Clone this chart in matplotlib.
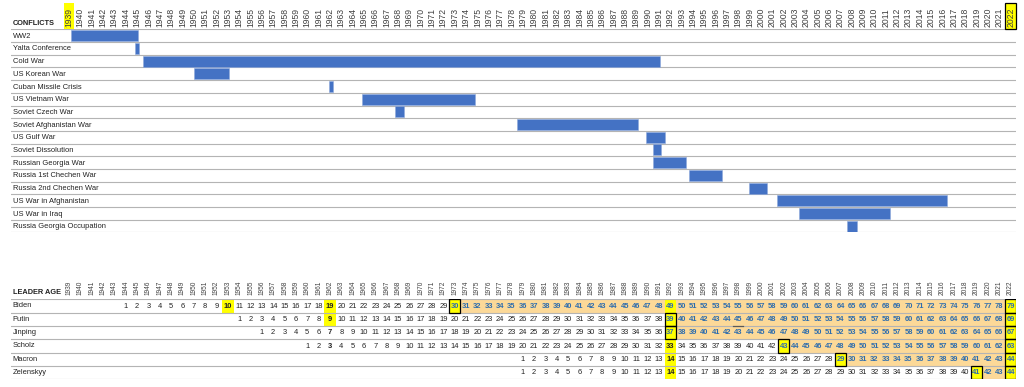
import matplotlib
matplotlib.use("Agg")
import matplotlib.pyplot as plt
from matplotlib.patches import Rectangle

plt.rcParams['font.family'] = ['Liberation Sans', 'DejaVu Sans']

# ---------------- data ----------------
years = list(range(1939, 2023))

conflicts = ["WW2", "Yalta Conference", "Cold War", "US Korean War", "Cuban Missile Crisis",
             "US Vietnam War", "Soviet Czech War", "Soviet Afghanistan War", "US Gulf War",
             "Soviet Dissolution", "Russian Georgia War", "Russia 1st Chechen War",
             "Russia 2nd Chechen War", "US War in Afghanistan", "US War in Iraq",
             "Russia Georgia Occupation"]
conflict_start = [1939.65, 1945.34, 1946.00, 1950.54, 1962.44, 1965.30, 1968.24, 1978.99,
                  1990.36, 1991.00, 1991.00, 1994.18, 1999.44, 2001.88, 2003.87, 2008.05]
conflict_end = [1945.61, 1945.64, 1991.59, 1953.58, 1962.74, 1975.29, 1969.05, 1989.63,
                1992.03, 1991.68, 1993.86, 1997.06, 2001.05, 2016.92, 2011.87, 2008.96]

leaders = ["Biden", "Putin", "Jinping", "Scholz", "Macron", "Zelenskyy"]
first_age_year = [1944, 1954, 1956, 1960, 1979, 1979]
ages_biden = [1, 2, 3, 4, 5, 6, 7, 8, 9, 10, 11, 12, 13, 14, 15, 16, 17, 18, 19, 20,
              21, 22, 23, 24, 25, 26, 27, 28, 29, 30, 31, 32, 33, 34, 35, 36, 37, 38, 39, 40,
              41, 42, 43, 44, 45, 46, 47, 48, 49, 50, 51, 52, 53, 54, 55, 56, 57, 58, 59, 60,
              61, 62, 63, 64, 65, 66, 67, 68, 69, 70, 71, 72, 73, 74, 75, 76, 77, 78, 79]
ages_putin = [1, 2, 3, 4, 5, 6, 7, 8, 9, 10, 11, 12, 13, 14, 15, 16, 17, 18, 19, 20,
              21, 22, 23, 24, 25, 26, 27, 28, 29, 30, 31, 32, 33, 34, 35, 36, 37, 38, 39, 40,
              41, 42, 43, 44, 45, 46, 47, 48, 49, 50, 51, 52, 53, 54, 55, 56, 57, 58, 59, 60,
              61, 62, 63, 64, 65, 66, 67, 68, 69]
ages_jinping = [1, 2, 3, 4, 5, 6, 7, 8, 9, 10, 11, 12, 13, 14, 15, 16, 17, 18, 19, 20,
                21, 22, 23, 24, 25, 26, 27, 28, 29, 30, 31, 32, 33, 34, 35, 36, 37, 38, 39, 40,
                41, 42, 43, 44, 45, 46, 47, 48, 49, 50, 51, 52, 53, 54, 55, 56, 57, 58, 59, 60,
                61, 62, 63, 64, 65, 66, 67]
ages_scholz = [1, 2, 3, 4, 5, 6, 7, 8, 9, 10, 11, 12, 13, 14, 15, 16, 17, 18, 19, 20,
               21, 22, 23, 24, 25, 26, 27, 28, 29, 30, 31, 32, 33, 34, 35, 36, 37, 38, 39, 40,
               41, 42, 43, 44, 45, 46, 47, 48, 49, 50, 51, 52, 53, 54, 55, 56, 57, 58, 59, 60,
               61, 62, 63]
ages_macron = [1, 2, 3, 4, 5, 6, 7, 8, 9, 10, 11, 12, 13, 14, 15, 16, 17, 18, 19, 20,
               21, 22, 23, 24, 25, 26, 27, 28, 29, 30, 31, 32, 33, 34, 35, 36, 37, 38, 39, 40,
               41, 42, 43, 44]
ages_zelenskyy = [1, 2, 3, 4, 5, 6, 7, 8, 9, 10, 11, 12, 13, 14, 15, 16, 17, 18, 19, 20,
                  21, 22, 23, 24, 25, 26, 27, 28, 29, 30, 31, 32, 33, 34, 35, 36, 37, 38, 39, 40,
                  41, 42, 43, 44]
leader_ages = [ages_biden, ages_putin, ages_jinping, ages_scholz, ages_macron, ages_zelenskyy]
tenure_start = [1973, 1992, 1992, 2002, 2007, 2019]
yellow_cells = [("Biden", 1953), ("Biden", 1962), ("Putin", 1962), ("Biden", 1992),
                ("Scholz", 1992), ("Macron", 1992), ("Zelenskyy", 1992)]
bold_cells = [("Jinping", 1962), ("Scholz", 1962)]
header_highlight = [1939, 2022]
current_year = 2022

# ---------------- style ----------------
W, H = 1024, 387
COL = 11.345
X0_PX = 63.33          # left edge of 1939 column in pixels
LEFT_PX, RIGHT_PX = 11, 1016.3
xmin = 1939 - (X0_PX - LEFT_PX) / COL
xmax = 1939 + (RIGHT_PX - X0_PX) / COL
BAR = "#4472C4"
BAR_EDGE = "#8EA9DB"
GRID = "#B4B4B4"
YELLOW = "#FFFF00"
PEACH = "#FCD998"
BLUE = "#2E6DAE"
DARK = "#222222"
YEARC = "#404040"

fig = plt.figure(figsize=(W / 100, H / 100), dpi=100)

# ---------------- conflicts ----------------
top_px, bot_px = 29.3, 232.5
ax1 = fig.add_axes([LEFT_PX / W, 1 - bot_px / H, (RIGHT_PX - LEFT_PX) / W, (bot_px - top_px) / H])
ax1.set_xlim(xmin, xmax)
ax1.set_ylim(len(conflicts), 0)
ax1.set_axis_off()
row1 = (bot_px - top_px) / len(conflicts)

for k in range(len(conflicts) + 1):
    ax1.axhline(k, color=GRID, lw=0.8, zorder=1)

ax1.barh([i + 0.5 for i in range(len(conflicts))],
         [e - s for s, e in zip(conflict_start, conflict_end)],
         left=conflict_start, height=0.86, color=BAR, edgecolor=BAR_EDGE, lw=0.4, zorder=3)

label_x = xmin + 1.7 / COL
for i, name in enumerate(conflicts):
    ax1.text(label_x, i + 0.55, name, fontsize=5.4, color=DARK, va="center", ha="left")

hdr_h = 26.0 / row1
for y in header_highlight:
    ax1.add_patch(Rectangle((y + 0.02, -hdr_h), 0.94, hdr_h, facecolor=YELLOW,
                            edgecolor="black" if y == current_year else "none",
                            lw=0.9, clip_on=False, zorder=1))
for y in years:
    ax1.text(y + 0.5, -2.6 / row1, str(y), rotation=90, fontsize=6.2, color=YEARC,
             ha="center", va="bottom", clip_on=False, zorder=2)
ax1.text(label_x, -6.0 / row1, "CONFLICTS", fontsize=5.3, fontweight="bold", color=DARK,
         ha="left", va="center", clip_on=False)

# ---------------- leader ages ----------------
top2, bot2 = 299.3, 379.3
ax2 = fig.add_axes([LEFT_PX / W, 1 - bot2 / H, (RIGHT_PX - LEFT_PX) / W, (bot2 - top2) / H])
ax2.set_xlim(xmin, xmax)
ax2.set_ylim(len(leaders), 0)
ax2.set_axis_off()
row2 = (bot2 - top2) / len(leaders)

for y in years:
    ax2.text(y + 0.5, -4.3 / row2, str(y), rotation=90, fontsize=4.7, color=YEARC,
             ha="center", va="bottom", clip_on=False)
ax2.text(label_x, -6.6 / row2, "LEADER AGE", fontsize=5.3, fontweight="bold", color=DARK,
         ha="left", va="center", clip_on=False)

boxes = []
for r, (name, fy, ages, ts) in enumerate(zip(leaders, first_age_year, leader_ages, tenure_start)):
    ax2.text(label_x, r + 0.5, name, fontsize=5.4, color=DARK, va="center", ha="left")
    for j, age in enumerate(ages):
        y = fy + j
        is_start = (y == ts)
        is_final = (y == current_year)
        in_band = ts < y < current_year
        yellow = (name, y) in yellow_cells or is_start or is_final
        if yellow:
            ax2.add_patch(Rectangle((y, r), 1, 1, facecolor=YELLOW, edgecolor="none", zorder=1))
        elif in_band:
            ax2.add_patch(Rectangle((y, r), 1, 1, facecolor=PEACH, edgecolor="none", zorder=1))
        if is_start or is_final:
            boxes.append((y, r))
        blue = y >= ts
        bold = blue or yellow or (name, y) in bold_cells
        ax2.text(y + 0.5, r + 0.52, str(age), fontsize=5.4, ha="center", va="center",
                 color=BLUE if blue else DARK, fontweight="bold" if bold else "normal", zorder=4)

for k in range(len(leaders) + 1):
    ax2.axhline(k, color=GRID, lw=0.8, zorder=2)
ax2.plot([1998.05, 1998.95], [2, 2], color="#595959", lw=0.9, zorder=3)
for (y, r) in boxes:
    ax2.add_patch(Rectangle((y, r), 1, 1, facecolor="none", edgecolor="black", lw=0.9, zorder=5))

fig.savefig("out.png", dpi=100)
